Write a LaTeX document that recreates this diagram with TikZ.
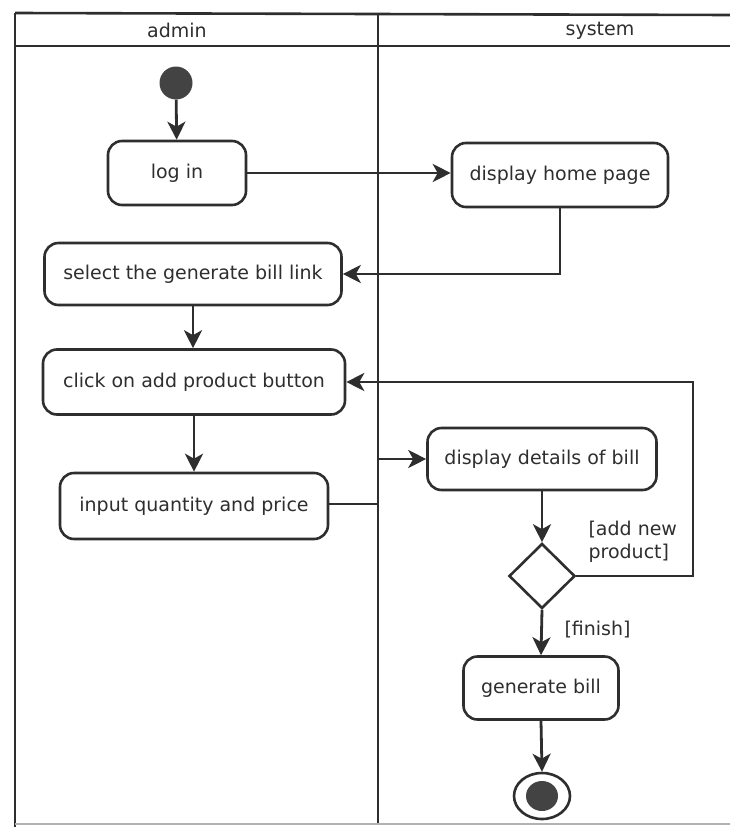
\documentclass[tikz,border=0pt]{standalone}
\usepackage{fontspec}
\setmainfont{DejaVu Sans}
\usetikzlibrary{shapes.geometric,arrows.meta,calc}
\definecolor{ink}{HTML}{2E2E2E}
\begin{document}
\begin{tikzpicture}[x=1pt,y=-1pt,
  every node/.style={font=\fontsize{19}{23}\selectfont, text=ink},
  act/.style={draw=ink, line width=2.6pt, rounded corners=14pt, inner sep=0pt, align=center},
  flow/.style={draw=ink, line width=2.8pt, -{Stealth[length=18pt,width=18pt,inset=5pt]}},
  lane/.style={draw=ink, line width=2.6pt}
]
\useasboundingbox (0,0) rectangle (730,827);
% frame
\draw[lane] (15,13) -- (730,15);
\draw[lane] (15,46) -- (730,46);
\draw[lane] (15,13) -- (15,827);
\draw[draw=ink, line width=2.2pt] (378,13) -- (378,824);
\draw[draw=gray!60, line width=1.5pt] (15,824) -- (730,824);
\node (hadmin) at (177,30) {admin};
\node (hsystem) at (600,31) {system};

% nodes
\node[circle, fill=ink!90, minimum size=33pt, inner sep=0pt] (start) at (176,83) {};
\node[act, minimum width=138pt, minimum height=64pt] (login) at (177,173) {log in};
\node[act, minimum width=216pt, minimum height=64pt] (home) at (560,175) {display home page};
\node[act, minimum width=297pt, minimum height=62pt] (select) at (193,274) {select the generate bill link};
\node[act, minimum width=302pt, minimum height=65pt] (click) at (194,382) {click on add product button};
\node[act, minimum width=268pt, minimum height=66pt] (input) at (194,506) {input quantity and price};
\node[act, minimum width=229pt, minimum height=62pt] (details) at (542,459) {display details of bill};
\node[diamond, draw=ink, line width=2.6pt, minimum width=66pt, minimum height=65pt, inner sep=0pt] (dec) at (542,576) {};
\node[act, minimum width=155pt, minimum height=63pt] (gen) at (541,688) {generate bill};
\node[ellipse, draw=ink, line width=2.6pt, minimum width=56pt, minimum height=46pt, inner sep=0pt] (end) at (542,796) {};
\node[ellipse, fill=ink!90, minimum width=32pt, minimum height=30pt, inner sep=0pt] (endin) at (end.center) {};

\coordinate (mergeA) at (378,504);
\coordinate (mergeB) at (378,459);
\coordinate (loopR) at (693,576);
\coordinate (loopT) at (693,382);

% connectors
\draw[flow] (start) -- (login);
\draw[flow] (login.east) -- (login.east -| home.west);
\draw[flow] (home.south) |- (select.east);
\draw[flow] (select.south) -- (select.south |- click.north);
\draw[flow] (click.south) -- (click.south |- input.north);
\draw[flow] (input.east |- mergeA) -- (mergeA) -- (mergeB) -- (details.west);
\draw[flow] (details.south) -- (dec.north);
\draw[flow] (dec.east) -- (loopR) -- (loopT) -- (click.east);
\draw[flow] (dec.south) -- (gen.north);
\draw[flow] (gen.south) -- (end.north);

\node[anchor=west, align=left] (gadd) at (585,542) {[add new\\product]};
\node[anchor=west] (gfin) at (561,630) {[finish]};
\end{tikzpicture}
\end{document}
